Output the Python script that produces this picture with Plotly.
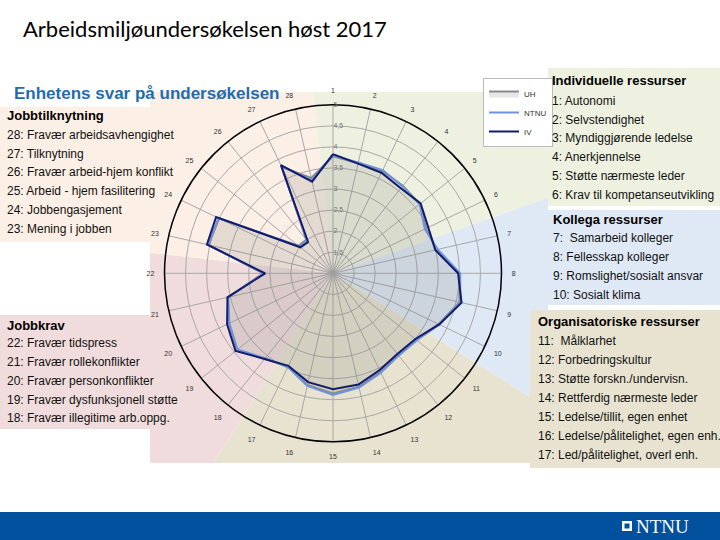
import math
import plotly.graph_objects as go

# ---------------- data ----------------
categories = [str(i) for i in range(1, 29)]
uh = [3.78, 3.68, 3.70, 3.66, 3.64, 3.45, 3.52, 4.00, 4.08, 3.78, 3.52, 3.48, 3.58, 3.76,
      3.85, 3.72, 3.46, 3.60, 3.92, 3.74, 3.56, 2.66, 4.03, 4.00, 2.05, 2.02, 3.80, 3.32]
ntnu = [3.80, 3.70, 3.72, 3.64, 3.63, 3.42, 3.55, 4.02, 4.10, 3.80, 3.55, 3.50, 3.62, 3.78,
        3.89, 3.74, 3.47, 3.58, 3.90, 3.73, 3.55, 2.64, 4.05, 4.02, 2.02, 1.99, 3.82, 3.26]
iv = [3.83, 3.67, 3.65, 3.58, 3.66, 3.51, 3.49, 3.97, 4.13, 3.80, 3.50, 3.45, 3.55, 3.71,
      3.75, 3.65, 3.44, 3.60, 3.96, 3.79, 3.57, 2.61, 4.07, 4.08, 1.99, 1.95, 3.85, 3.23]
radial_tickvals = [1.5, 2, 2.5, 3, 3.5, 4, 4.5, 5]
radial_ticktext = ["1,5", "2", "2,5", "3", "3,5", "4", "4,5", "5"]

group_first = [1, 7, 11, 18, 23]
group_last = [6, 10, 17, 22, 28]
group_colors = ["#eef1e0", "#dfe8f5", "#e7e3d0", "#f0dcdc", "#fcefe5"]

title_text = "Arbeidsmiljøundersøkelsen høst 2017"
subtitle_text = "Enhetens svar på undersøkelsen"

individuelle_header = "Individuelle ressurser"
individuelle_items = ["1: Autonomi", "2: Selvstendighet", "3: Myndiggjørende ledelse",
                      "4: Anerkjennelse", "5: Støtte nærmeste leder",
                      "6: Krav til kompetanseutvikling"]
kollega_header = "Kollega ressurser"
kollega_items = ["7:  Samarbeid kolleger", "8: Fellesskap kolleger",
                 "9: Romslighet/sosialt ansvar", "10: Sosialt klima"]
org_header = "Organisatoriske ressurser"
org_items = ["11:  Målklarhet", "12: Forbedringskultur", "13: Støtte forskn./undervisn.",
             "14: Rettferdig nærmeste leder", "15: Ledelse/tillit, egen enhet",
             "16: Ledelse/pålitelighet, egen enh.", "17: Led/pålitelighet, overl enh."]
jobbkrav_header = "Jobbkrav"
jobbkrav_items = ["22: Fravær tidspress", "21: Fravær rollekonflikter",
                  "20: Fravær personkonflikter", "19: Fravær dysfunksjonell støtte",
                  "18: Fravær illegitime arb.oppg."]
jobbtilk_header = "Jobbtilknytning"
jobbtilk_items = ["28: Fravær arbeidsavhengighet", "27: Tilknytning",
                  "26: Fravær arbeid-hjem konflikt", "25: Arbeid - hjem fasilitering",
                  "24: Jobbengasjement", "23: Mening i jobben"]

# ---------------- layout helpers ----------------
W, H = 720, 540
def px(x):
    return x / W
def py(y):
    return 1 - y / H

# polar geometry (pixels)
CX, CY, R = 333.0, 273.3, 168.5
dom_x = [px(CX - R), px(CX + R)]
dom_y = [py(CY + R), py(CY - R)]

# background sector rectangle (pixels)
RX0, RX1, RY0, RY1 = 150, 548, 92, 463

def ray_to_rect(theta_deg):
    t = math.radians(theta_deg)
    dx, dy = math.sin(t), -math.cos(t)
    ts = []
    if dx > 1e-9:
        ts.append((RX1 - CX) / dx)
    elif dx < -1e-9:
        ts.append((RX0 - CX) / dx)
    if dy > 1e-9:
        ts.append((RY1 - CY) / dy)
    elif dy < -1e-9:
        ts.append((RY0 - CY) / dy)
    tt = min(ts)
    return CX + tt * dx, CY + tt * dy

shapes = []
n = len(categories)
step = 360.0 / n
for first, last, col in zip(group_first, group_last, group_colors):
    a0 = (first - 1) * step - step / 2
    a1 = (last - 1) * step + step / 2
    pts = [(CX, CY)]
    k = int(math.ceil((a1 - a0) / 0.25))
    for i in range(k + 1):
        a = a0 + (a1 - a0) * i / k
        pts.append(ray_to_rect(a))
    path = "M " + " L ".join(f"{px(x):.5f},{py(y):.5f}" for x, y in pts) + " Z"
    shapes.append(dict(type="path", path=path, xref="paper", yref="paper",
                       fillcolor=col, line=dict(width=0), layer="below"))

annotations = []
panels = [
    (jobbtilk_header, jobbtilk_items, (0, 107, 207, 242), 5, 116.0, 135.0, 18.7, group_colors[4]),
    (jobbkrav_header, jobbkrav_items, (0, 315, 183, 429), 5, 325.0, 343.3, 18.75, group_colors[3]),
    (individuelle_header, individuelle_items, (548, 68, 720, 206), 550, 80.7, 100.7, 18.85, group_colors[0]),
    (kollega_header, kollega_items, (548, 210, 720, 305), 551, 219.0, 238.3, 18.9, group_colors[1]),
    (org_header, org_items, (530, 310, 720, 468), 536, 321.7, 340.7, 19.05, group_colors[2]),
]
for header, items, (x0, y0, x1, y1), tx, hy, iy, sp, col in panels:
    shapes.append(dict(type="rect", xref="paper", yref="paper", x0=px(x0), x1=px(x1),
                       y0=py(y1), y1=py(y0), fillcolor=col, line=dict(width=0), layer="below"))
    annotations.append(dict(text="<b>" + header + "</b>", x=px(tx), y=py(hy), xref="paper",
                            yref="paper", xanchor="left", yanchor="middle", showarrow=False,
                            font=dict(family="Liberation Sans, Arial", size=13, color="#000")))
    for i, it in enumerate(items):
        annotations.append(dict(text=it, x=px(tx), y=py(iy + i * sp), xref="paper",
                                yref="paper", xanchor="left", yanchor="middle", showarrow=False,
                                font=dict(family="Liberation Sans, Arial", size=12, color="#111")))

# titles
annotations.append(dict(text=title_text, x=px(21), y=py(29), xref="paper", yref="paper",
                        xanchor="left", yanchor="middle", showarrow=False,
                        font=dict(family="Lato", size=22, color="#000")))
annotations.append(dict(text="<b>" + subtitle_text + "</b>", x=px(12), y=py(93), xref="paper",
                        yref="paper", xanchor="left", yanchor="middle", showarrow=False,
                        font=dict(family="Liberation Sans, Arial", size=17, color="#1f6cae")))

# bottom band + logo
shapes.append(dict(type="rect", xref="paper", yref="paper", x0=0, x1=1, y0=py(540), y1=py(512),
                   fillcolor="#00509e", line=dict(width=0), layer="above"))
shapes.append(dict(type="rect", xref="paper", yref="paper", x0=px(622), x1=px(632),
                   y0=py(531), y1=py(521), fillcolor="#ffffff", line=dict(width=0), layer="above"))
shapes.append(dict(type="rect", xref="paper", yref="paper", x0=px(624.5), x1=px(629.5),
                   y0=py(528.5), y1=py(523.5), fillcolor="#00509e", line=dict(width=0), layer="above"))
annotations.append(dict(text="NTNU", x=px(634), y=py(526), xref="paper", yref="paper",
                        xanchor="left", yanchor="middle", showarrow=False,
                        font=dict(family="Liberation Serif", size=19, color="#ffffff")))

# ---------------- traces ----------------
theta_closed = categories + [categories[0]]
fig = go.Figure()
fig.add_trace(go.Scatterpolar(r=uh + [uh[0]], theta=theta_closed, name="UH", mode="lines",
                              line=dict(color="#8a8a8a", width=2), fill="toself",
                              fillcolor="rgba(120,120,120,0.18)"))
fig.add_trace(go.Scatterpolar(r=ntnu + [ntnu[0]], theta=theta_closed, name="NTNU", mode="lines",
                              line=dict(color="#6e93dc", width=2)))
fig.add_trace(go.Scatterpolar(r=iv + [iv[0]], theta=theta_closed, name="IV", mode="lines",
                              line=dict(color="#131c6b", width=2)))

fig.update_layout(
    template="none",
    width=W, height=H, autosize=False,
    margin=dict(l=0, r=0, t=0, b=0),
    paper_bgcolor="white", plot_bgcolor="white",
    shapes=shapes, annotations=annotations,
    showlegend=True,
    legend=dict(x=px(483), y=py(78), xanchor="left", yanchor="top",
                bgcolor="white", bordercolor="#bbbbbb", borderwidth=1,
                font=dict(family="Liberation Sans, Arial", size=8, color="#333"),
                itemwidth=30, tracegroupgap=0),
    polar=dict(
        domain=dict(x=dom_x, y=dom_y),
        bgcolor="rgba(0,0,0,0)",
        radialaxis=dict(range=[1, 5], tickvals=radial_tickvals, ticktext=radial_ticktext,
                        angle=90, side="clockwise", showline=False, ticks="",
                        tickangle=90,
                        gridcolor="#a8a8a8", gridwidth=1,
                        tickfont=dict(family="Liberation Sans, Arial", size=7, color="#777")),
        angularaxis=dict(type="category", categoryorder="array", categoryarray=categories,
                         rotation=90, direction="clockwise",
                         showline=True, linecolor="#000", linewidth=1.5,
                         gridcolor="#a8a8a8", gridwidth=1,
                         ticks="outside", ticklen=8, tickcolor="rgba(0,0,0,0)",
                         tickfont=dict(family="Liberation Sans, Arial", size=7, color="#333")),
    ),
)

fig.write_html("out.html", config={"displayModeBar": False},
               post_script="document.body.style.margin='0';document.body.style.overflow='hidden';")
